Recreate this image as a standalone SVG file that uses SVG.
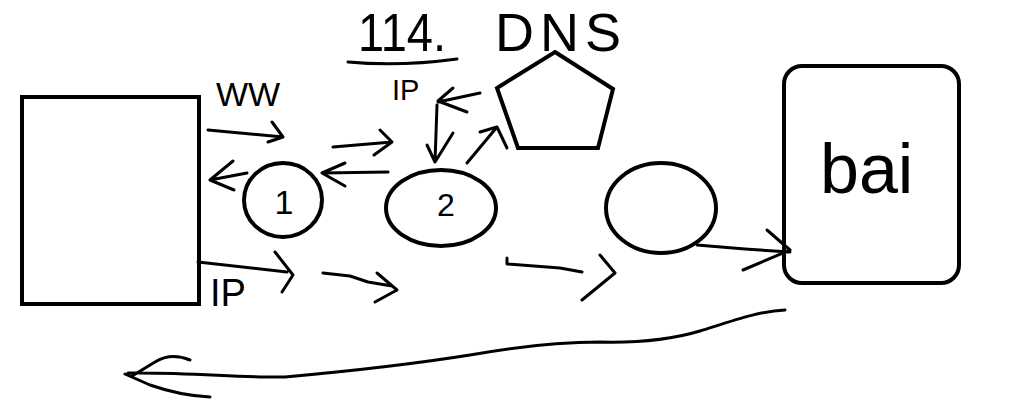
<svg xmlns="http://www.w3.org/2000/svg" width="1022" height="408" viewBox="0 0 1022 408">
<style>
.shape{fill:none;stroke:#000;stroke-width:4;stroke-linejoin:miter}
.ink{fill:none;stroke:#000;stroke-width:3;stroke-linecap:round;stroke-linejoin:round}
.t{font-family:"Liberation Sans",Arial,sans-serif;fill:#000}
</style>
<rect width="1022" height="408" fill="#fff"/>
<g id="client">
<rect class="shape" x="22" y="97" width="177" height="207"/>
</g>
<g id="node1">
<ellipse class="shape" cx="283" cy="200" rx="39" ry="37"/>
<text class="t" x="284" y="214" font-size="34" text-anchor="middle">1</text>
</g>
<g id="node2">
<ellipse class="shape" cx="441" cy="208" rx="55" ry="38"/>
<text class="t" x="446" y="216" font-size="32" text-anchor="middle">2</text>
</g>
<g id="node3">
<ellipse class="shape" cx="661" cy="208" rx="55" ry="45"/>
</g>
<g id="dns">
<polygon class="shape" points="555,52 613,89 598,148 518,148 497,88"/>
<text class="t" font-size="54"><tspan x="358" y="51" textLength="88" lengthAdjust="spacingAndGlyphs">114.</tspan><tspan x="495" y="51" letter-spacing="6">DNS</tspan></text>
<path class="ink" d="M348,62 C380,65 420,64 457,59"/>
</g>
<g id="server">
<rect class="shape" x="784" y="66" width="175" height="217" rx="18" ry="18"/>
<text class="t" x="820" y="193" font-size="70">bai</text>
</g>
<g id="labels">
<text class="t" x="216" y="106" font-size="34">WW</text>
<text class="t" x="392" y="100" font-size="29">IP</text>
<text class="t" x="210" y="306" font-size="38">IP</text>
</g>
<g id="connectors">
<path class="ink" d="M208,130 L283,137 M272,122 L283,137 L268,142"/>
<path class="ink" d="M333,147 L392,142 M380,130 L392,142 L374,155"/>
<path class="ink" d="M388,172 L322,173 M345,163 L322,173 L345,186"/>
<path class="ink" d="M247,173 L210,180 M233,161 L210,180 L234,190"/>
<path class="ink" d="M437,105 L435,162 M427,145 L435,162 L453,133"/>
<path class="ink" d="M480,93 L438,102 M453,88 L438,101 L467,112"/>
<path class="ink" d="M467,163 L497,127 M480,132 L497,127 L507,148"/>
<path class="ink" d="M198,262 L287,272 M275,252 L293,275 L282,292"/>
<path class="ink" d="M323,273 L350,276 L368,282 L392,286 M377,273 L397,290 L375,302"/>
<path class="ink" d="M507,258 L507,264 L560,268 L582,272 M600,255 L615,273 L582,300"/>
<path class="ink" d="M697,245 L745,249 L790,252 M767,230 L790,250 L743,270"/>
<path class="ink" d="M785,310 C760,311 735,320 700,331 C670,340 640,343 600,342 C560,342 520,346 470,355 C420,363 340,372 285,377 C240,378 190,372 128,373 M190,360 C180,356 168,354 155,362 L132,376 M125,374 L150,385 C170,392 190,396 210,397"/>
</g>
</svg>
